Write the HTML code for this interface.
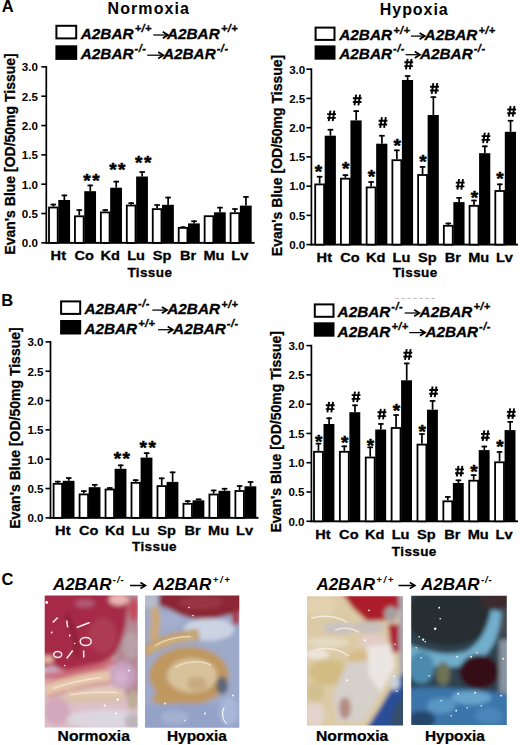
<!DOCTYPE html>
<html><head><meta charset="utf-8"><title>Figure</title><style>
html,body{margin:0;padding:0;background:#fff;width:520px;height:745px;overflow:hidden}
svg{display:block;position:absolute;left:0;top:0}
text{font-family:"Liberation Sans", sans-serif;fill:#000}
.yl{font-size:11.6px;font-weight:bold}
.xl{font-size:13.5px;font-weight:bold;stroke:#000;stroke-width:0.3px}
.tis{font-size:13.5px;font-weight:bold;letter-spacing:0.4px;stroke:#000;stroke-width:0.3px}
.yt{font-size:14px;font-weight:bold;stroke:#000;stroke-width:0.3px}
.ttl{font-size:16px;font-weight:bold}
.lg{font-size:15.3px;font-weight:bold;font-style:italic;stroke:#000;stroke-width:0.3px}
.sup{font-size:11px}
.ast{font-size:19px;font-weight:bold;stroke:#000;stroke-width:0.5px}
.ast2{font-size:19px;font-weight:bold;letter-spacing:1.5px;stroke:#000;stroke-width:0.5px}
.hash{font-size:16px;font-weight:bold}
.pl{font-size:17px;font-style:italic;font-weight:bold}
.psup{font-size:9.5px}
.cap{font-size:14px;font-weight:bold;stroke:#000;stroke-width:0.25px}
.pan{font-size:16.5px;font-weight:bold}
</style></head><body>
<svg width="520" height="745" viewBox="0 0 520 745">
<text x="1.8" y="12.4" class="pan">A</text>
<text x="1.2" y="305.6" class="pan">B</text>
<text x="1.6" y="585.3" class="pan">C</text>
<text x="107.5" y="13.8" class="ttl" style="letter-spacing:1.1px">Normoxia</text>
<text x="379.8" y="15.4" class="ttl" style="letter-spacing:0.95px">Hypoxia</text>
<rect x="45.45" y="66.1" width="1.7" height="177.55" fill="#000"/>
<rect x="41.3" y="242.05" width="5" height="1.6" fill="#000"/>
<text x="37.9" y="247.15" text-anchor="end" class="yl">0.0</text>
<rect x="41.3" y="212.72" width="5" height="1.6" fill="#000"/>
<text x="37.9" y="217.83" text-anchor="end" class="yl">0.5</text>
<rect x="41.3" y="183.4" width="5" height="1.6" fill="#000"/>
<text x="37.9" y="188.5" text-anchor="end" class="yl">1.0</text>
<rect x="41.3" y="154.07" width="5" height="1.6" fill="#000"/>
<text x="37.9" y="159.18" text-anchor="end" class="yl">1.5</text>
<rect x="41.3" y="124.75" width="5" height="1.6" fill="#000"/>
<text x="37.9" y="129.85" text-anchor="end" class="yl">2.0</text>
<rect x="41.3" y="95.42" width="5" height="1.6" fill="#000"/>
<text x="37.9" y="100.52" text-anchor="end" class="yl">2.5</text>
<rect x="41.3" y="66.1" width="5" height="1.6" fill="#000"/>
<text x="37.9" y="71.2" text-anchor="end" class="yl">3.0</text>
<rect x="45.45" y="241.9" width="209.15" height="1.9" fill="#000"/>
<rect x="52.5" y="203.7" width="1.7" height="2.9" fill="#000"/>
<rect x="50.55" y="203.7" width="5.6" height="1.7" fill="#000"/>
<rect x="49" y="207.5" width="8.7" height="35.35" fill="#fff" stroke="#000" stroke-width="1.8"/>
<rect x="63.5" y="194.6" width="1.7" height="5.4" fill="#000"/>
<rect x="61.55" y="194.6" width="5.6" height="1.7" fill="#000"/>
<rect x="58.3" y="200" width="11.8" height="42.85" fill="#000"/>
<text transform="translate(58.3,260.2) scale(1.08,1)" text-anchor="middle" class="xl">Ht</text>
<rect x="78.44" y="209.2" width="1.7" height="6.2" fill="#000"/>
<rect x="76.49" y="209.2" width="5.6" height="1.7" fill="#000"/>
<rect x="74.94" y="216.3" width="8.7" height="26.55" fill="#fff" stroke="#000" stroke-width="1.8"/>
<rect x="89.44" y="184.6" width="1.7" height="6.6" fill="#000"/>
<rect x="87.49" y="184.6" width="5.6" height="1.7" fill="#000"/>
<rect x="84.24" y="191.2" width="11.8" height="51.65" fill="#000"/>
<text transform="translate(84.24,260.2) scale(1.08,1)" text-anchor="middle" class="xl">Co</text>
<rect x="104.38" y="209.2" width="1.7" height="2.3" fill="#000"/>
<rect x="102.43" y="209.2" width="5.6" height="1.7" fill="#000"/>
<rect x="100.88" y="212.4" width="8.7" height="30.45" fill="#fff" stroke="#000" stroke-width="1.8"/>
<rect x="115.38" y="180.8" width="1.7" height="6.9" fill="#000"/>
<rect x="113.43" y="180.8" width="5.6" height="1.7" fill="#000"/>
<rect x="110.18" y="187.7" width="11.8" height="55.15" fill="#000"/>
<text transform="translate(110.18,260.2) scale(1.08,1)" text-anchor="middle" class="xl">Kd</text>
<rect x="130.32" y="202.3" width="1.7" height="2.3" fill="#000"/>
<rect x="128.37" y="202.3" width="5.6" height="1.7" fill="#000"/>
<rect x="126.82" y="205.5" width="8.7" height="37.35" fill="#fff" stroke="#000" stroke-width="1.8"/>
<rect x="141.32" y="171.2" width="1.7" height="5.3" fill="#000"/>
<rect x="139.37" y="171.2" width="5.6" height="1.7" fill="#000"/>
<rect x="136.12" y="176.5" width="11.8" height="66.35" fill="#000"/>
<text transform="translate(136.12,260.2) scale(1.08,1)" text-anchor="middle" class="xl">Lu</text>
<rect x="156.26" y="204.2" width="1.7" height="4" fill="#000"/>
<rect x="154.31" y="204.2" width="5.6" height="1.7" fill="#000"/>
<rect x="152.76" y="209.1" width="8.7" height="33.75" fill="#fff" stroke="#000" stroke-width="1.8"/>
<rect x="167.26" y="196.7" width="1.7" height="8.1" fill="#000"/>
<rect x="165.31" y="196.7" width="5.6" height="1.7" fill="#000"/>
<rect x="162.06" y="204.8" width="11.8" height="38.05" fill="#000"/>
<text transform="translate(162.06,260.2) scale(1.08,1)" text-anchor="middle" class="xl">Sp</text>
<rect x="182.2" y="226.4" width="1.7" height="0.6" fill="#000"/>
<rect x="180.25" y="226.4" width="5.6" height="1.7" fill="#000"/>
<rect x="178.7" y="227.9" width="8.7" height="14.95" fill="#fff" stroke="#000" stroke-width="1.8"/>
<rect x="193.2" y="220.4" width="1.7" height="3" fill="#000"/>
<rect x="191.25" y="220.4" width="5.6" height="1.7" fill="#000"/>
<rect x="188" y="223.4" width="11.8" height="19.45" fill="#000"/>
<text transform="translate(188,260.2) scale(1.08,1)" text-anchor="middle" class="xl">Br</text>
<rect x="204.64" y="216.2" width="8.7" height="26.65" fill="#fff" stroke="#000" stroke-width="1.8"/>
<rect x="219.14" y="206.8" width="1.7" height="5.5" fill="#000"/>
<rect x="217.19" y="206.8" width="5.6" height="1.7" fill="#000"/>
<rect x="213.94" y="212.3" width="11.8" height="30.55" fill="#000"/>
<text transform="translate(213.94,260.2) scale(1.08,1)" text-anchor="middle" class="xl">Mu</text>
<rect x="234.08" y="208.2" width="1.7" height="4.1" fill="#000"/>
<rect x="232.13" y="208.2" width="5.6" height="1.7" fill="#000"/>
<rect x="230.58" y="213.2" width="8.7" height="29.65" fill="#fff" stroke="#000" stroke-width="1.8"/>
<rect x="245.08" y="196.1" width="1.7" height="9.5" fill="#000"/>
<rect x="243.13" y="196.1" width="5.6" height="1.7" fill="#000"/>
<rect x="239.88" y="205.6" width="11.8" height="37.25" fill="#000"/>
<text transform="translate(239.88,260.2) scale(1.08,1)" text-anchor="middle" class="xl">Lv</text>
<text x="92.14" y="186.6" text-anchor="middle" class="ast2">**</text>
<text x="118.08" y="176.3" text-anchor="middle" class="ast2">**</text>
<text x="144.02" y="168.9" text-anchor="middle" class="ast2">**</text>
<text x="149.89" y="276.8" text-anchor="middle" class="tis">Tissue</text>
<text transform="translate(14.8,254.7) rotate(-90)" class="yt">Evan's Blue [OD/50mg Tissue]</text>
<rect x="310.55" y="68.4" width="1.7" height="177" fill="#000"/>
<rect x="306.4" y="243.8" width="5" height="1.6" fill="#000"/>
<text x="305.3" y="248.9" text-anchor="end" class="yl">0.0</text>
<rect x="306.4" y="214.57" width="5" height="1.6" fill="#000"/>
<text x="305.3" y="219.67" text-anchor="end" class="yl">0.5</text>
<rect x="306.4" y="185.33" width="5" height="1.6" fill="#000"/>
<text x="305.3" y="190.43" text-anchor="end" class="yl">1.0</text>
<rect x="306.4" y="156.1" width="5" height="1.6" fill="#000"/>
<text x="305.3" y="161.2" text-anchor="end" class="yl">1.5</text>
<rect x="306.4" y="126.87" width="5" height="1.6" fill="#000"/>
<text x="305.3" y="131.97" text-anchor="end" class="yl">2.0</text>
<rect x="306.4" y="97.63" width="5" height="1.6" fill="#000"/>
<text x="305.3" y="102.73" text-anchor="end" class="yl">2.5</text>
<rect x="306.4" y="68.4" width="5" height="1.6" fill="#000"/>
<text x="305.3" y="73.5" text-anchor="end" class="yl">3.0</text>
<rect x="310.55" y="243.65" width="207.45" height="1.9" fill="#000"/>
<rect x="318.8" y="175.9" width="1.7" height="7.6" fill="#000"/>
<rect x="316.85" y="175.9" width="5.6" height="1.7" fill="#000"/>
<rect x="315.2" y="184.4" width="8.9" height="60.2" fill="#fff" stroke="#000" stroke-width="1.8"/>
<rect x="329.6" y="128.9" width="1.7" height="6.8" fill="#000"/>
<rect x="327.65" y="128.9" width="5.6" height="1.7" fill="#000"/>
<rect x="324.7" y="135.7" width="11.2" height="108.9" fill="#000"/>
<text transform="translate(324.3,261.5) scale(1.08,1)" text-anchor="middle" class="xl">Ht</text>
<rect x="344.53" y="174.3" width="1.7" height="3.5" fill="#000"/>
<rect x="342.58" y="174.3" width="5.6" height="1.7" fill="#000"/>
<rect x="340.93" y="178.7" width="8.9" height="65.9" fill="#fff" stroke="#000" stroke-width="1.8"/>
<rect x="355.33" y="110.3" width="1.7" height="10.1" fill="#000"/>
<rect x="353.38" y="110.3" width="5.6" height="1.7" fill="#000"/>
<rect x="350.43" y="120.4" width="11.2" height="124.2" fill="#000"/>
<text transform="translate(350.03,261.5) scale(1.08,1)" text-anchor="middle" class="xl">Co</text>
<rect x="370.26" y="181.2" width="1.7" height="5.3" fill="#000"/>
<rect x="368.31" y="181.2" width="5.6" height="1.7" fill="#000"/>
<rect x="366.66" y="187.4" width="8.9" height="57.2" fill="#fff" stroke="#000" stroke-width="1.8"/>
<rect x="381.06" y="134.9" width="1.7" height="8.8" fill="#000"/>
<rect x="379.11" y="134.9" width="5.6" height="1.7" fill="#000"/>
<rect x="376.16" y="143.7" width="11.2" height="100.9" fill="#000"/>
<text transform="translate(375.76,261.5) scale(1.08,1)" text-anchor="middle" class="xl">Kd</text>
<rect x="395.99" y="149.5" width="1.7" height="9.8" fill="#000"/>
<rect x="394.04" y="149.5" width="5.6" height="1.7" fill="#000"/>
<rect x="392.39" y="160.2" width="8.9" height="84.4" fill="#fff" stroke="#000" stroke-width="1.8"/>
<rect x="406.79" y="75.2" width="1.7" height="4.8" fill="#000"/>
<rect x="404.84" y="75.2" width="5.6" height="1.7" fill="#000"/>
<rect x="401.89" y="80" width="11.2" height="164.6" fill="#000"/>
<text transform="translate(401.49,261.5) scale(1.08,1)" text-anchor="middle" class="xl">Lu</text>
<rect x="421.72" y="166.1" width="1.7" height="8" fill="#000"/>
<rect x="419.77" y="166.1" width="5.6" height="1.7" fill="#000"/>
<rect x="418.12" y="175" width="8.9" height="69.6" fill="#fff" stroke="#000" stroke-width="1.8"/>
<rect x="432.52" y="96.3" width="1.7" height="18.7" fill="#000"/>
<rect x="430.57" y="96.3" width="5.6" height="1.7" fill="#000"/>
<rect x="427.62" y="115" width="11.2" height="129.6" fill="#000"/>
<text transform="translate(427.22,261.5) scale(1.08,1)" text-anchor="middle" class="xl">Sp</text>
<rect x="447.45" y="222.6" width="1.7" height="2.3" fill="#000"/>
<rect x="445.5" y="222.6" width="5.6" height="1.7" fill="#000"/>
<rect x="443.85" y="225.8" width="8.9" height="18.8" fill="#fff" stroke="#000" stroke-width="1.8"/>
<rect x="458.25" y="197" width="1.7" height="5.1" fill="#000"/>
<rect x="456.3" y="197" width="5.6" height="1.7" fill="#000"/>
<rect x="453.35" y="202.1" width="11.2" height="42.5" fill="#000"/>
<text transform="translate(452.95,261.5) scale(1.08,1)" text-anchor="middle" class="xl">Br</text>
<rect x="473.18" y="199.7" width="1.7" height="5.2" fill="#000"/>
<rect x="471.23" y="199.7" width="5.6" height="1.7" fill="#000"/>
<rect x="469.58" y="205.8" width="8.9" height="38.8" fill="#fff" stroke="#000" stroke-width="1.8"/>
<rect x="483.98" y="145.5" width="1.7" height="7.7" fill="#000"/>
<rect x="482.03" y="145.5" width="5.6" height="1.7" fill="#000"/>
<rect x="479.08" y="153.2" width="11.2" height="91.4" fill="#000"/>
<text transform="translate(478.68,261.5) scale(1.08,1)" text-anchor="middle" class="xl">Mu</text>
<rect x="498.91" y="183.5" width="1.7" height="6.6" fill="#000"/>
<rect x="496.96" y="183.5" width="5.6" height="1.7" fill="#000"/>
<rect x="495.31" y="191" width="8.9" height="53.6" fill="#fff" stroke="#000" stroke-width="1.8"/>
<rect x="509.71" y="119.9" width="1.7" height="11.9" fill="#000"/>
<rect x="507.76" y="119.9" width="5.6" height="1.7" fill="#000"/>
<rect x="504.81" y="131.8" width="11.2" height="112.8" fill="#000"/>
<text transform="translate(504.41,261.5) scale(1.08,1)" text-anchor="middle" class="xl">Lv</text>
<text x="318.35" y="177.5" text-anchor="middle" class="ast">*</text>
<path d="M330.45 110.6L328.75 121.2M334.35 110.6L332.65 121.2M327.15 114.1H335.95M327.15 117.9H335.75" stroke="#000" stroke-width="1.9" fill="none"/>
<text x="345.68" y="175.1" text-anchor="middle" class="ast">*</text>
<path d="M356.18 94.7L354.48 105.3M360.08 94.7L358.38 105.3M352.88 98.2H361.68M352.88 102H361.48" stroke="#000" stroke-width="1.9" fill="none"/>
<text x="371.41" y="183.1" text-anchor="middle" class="ast">*</text>
<path d="M381.91 117.2L380.21 127.8M385.81 117.2L384.11 127.8M378.61 120.7H387.41M378.61 124.5H387.21" stroke="#000" stroke-width="1.9" fill="none"/>
<text x="397.14" y="151.9" text-anchor="middle" class="ast">*</text>
<path d="M407.64 58.8L405.94 69.4M411.54 58.8L409.84 69.4M404.34 62.3H413.14M404.34 66.1H412.94" stroke="#000" stroke-width="1.9" fill="none"/>
<text x="422.87" y="167.6" text-anchor="middle" class="ast">*</text>
<path d="M433.37 83.2L431.67 93.8M437.27 83.2L435.57 93.8M430.07 86.7H438.87M430.07 90.5H438.67" stroke="#000" stroke-width="1.9" fill="none"/>
<path d="M459.1 179.1L457.4 189.7M463 179.1L461.3 189.7M455.8 182.6H464.6M455.8 186.4H464.4" stroke="#000" stroke-width="1.9" fill="none"/>
<text x="474.33" y="204.1" text-anchor="middle" class="ast">*</text>
<path d="M484.83 132.6L483.13 143.2M488.73 132.6L487.03 143.2M481.53 136.1H490.33M481.53 139.9H490.13" stroke="#000" stroke-width="1.9" fill="none"/>
<text x="500.06" y="184.9" text-anchor="middle" class="ast">*</text>
<path d="M510.56 106L508.86 116.6M514.46 106L512.76 116.6M507.26 109.5H516.06M507.26 113.3H515.86" stroke="#000" stroke-width="1.9" fill="none"/>
<text x="415.16" y="277.2" text-anchor="middle" class="tis">Tissue</text>
<text transform="translate(282,256.2) rotate(-90)" class="yt">Evan's Blue [OD/50mg Tissue]</text>
<rect x="49.65" y="341.1" width="1.7" height="177.55" fill="#000"/>
<rect x="45.5" y="517.05" width="5" height="1.6" fill="#000"/>
<text x="43.5" y="522.15" text-anchor="end" class="yl">0.0</text>
<rect x="45.5" y="487.73" width="5" height="1.6" fill="#000"/>
<text x="43.5" y="492.83" text-anchor="end" class="yl">0.5</text>
<rect x="45.5" y="458.4" width="5" height="1.6" fill="#000"/>
<text x="43.5" y="463.5" text-anchor="end" class="yl">1.0</text>
<rect x="45.5" y="429.07" width="5" height="1.6" fill="#000"/>
<text x="43.5" y="434.18" text-anchor="end" class="yl">1.5</text>
<rect x="45.5" y="399.75" width="5" height="1.6" fill="#000"/>
<text x="43.5" y="404.85" text-anchor="end" class="yl">2.0</text>
<rect x="45.5" y="370.43" width="5" height="1.6" fill="#000"/>
<text x="43.5" y="375.53" text-anchor="end" class="yl">2.5</text>
<rect x="45.5" y="341.1" width="5" height="1.6" fill="#000"/>
<text x="43.5" y="346.2" text-anchor="end" class="yl">3.0</text>
<rect x="49.65" y="516.9" width="208.85" height="1.9" fill="#000"/>
<rect x="57" y="480.8" width="1.7" height="2.1" fill="#000"/>
<rect x="55.05" y="480.8" width="5.6" height="1.7" fill="#000"/>
<rect x="53.6" y="483.8" width="8.5" height="34.05" fill="#fff" stroke="#000" stroke-width="1.8"/>
<rect x="67.9" y="477.2" width="1.7" height="3.6" fill="#000"/>
<rect x="65.95" y="477.2" width="5.6" height="1.7" fill="#000"/>
<rect x="62.7" y="480.8" width="11.8" height="37.05" fill="#000"/>
<text transform="translate(62.8,535.2) scale(1.08,1)" text-anchor="middle" class="xl">Ht</text>
<rect x="82.97" y="490.3" width="1.7" height="3.2" fill="#000"/>
<rect x="81.02" y="490.3" width="5.6" height="1.7" fill="#000"/>
<rect x="79.57" y="494.4" width="8.5" height="23.45" fill="#fff" stroke="#000" stroke-width="1.8"/>
<rect x="93.87" y="484" width="1.7" height="3.2" fill="#000"/>
<rect x="91.92" y="484" width="5.6" height="1.7" fill="#000"/>
<rect x="88.67" y="487.2" width="11.8" height="30.65" fill="#000"/>
<text transform="translate(88.77,535.2) scale(1.08,1)" text-anchor="middle" class="xl">Co</text>
<rect x="108.94" y="487.2" width="1.7" height="1.4" fill="#000"/>
<rect x="106.99" y="487.2" width="5.6" height="1.7" fill="#000"/>
<rect x="105.54" y="489.5" width="8.5" height="28.35" fill="#fff" stroke="#000" stroke-width="1.8"/>
<rect x="119.84" y="464.5" width="1.7" height="4.3" fill="#000"/>
<rect x="117.89" y="464.5" width="5.6" height="1.7" fill="#000"/>
<rect x="114.64" y="468.8" width="11.8" height="49.05" fill="#000"/>
<text transform="translate(114.74,535.2) scale(1.08,1)" text-anchor="middle" class="xl">Kd</text>
<rect x="134.91" y="479.3" width="1.7" height="2.6" fill="#000"/>
<rect x="132.96" y="479.3" width="5.6" height="1.7" fill="#000"/>
<rect x="131.51" y="482.8" width="8.5" height="35.05" fill="#fff" stroke="#000" stroke-width="1.8"/>
<rect x="145.81" y="452.3" width="1.7" height="5.3" fill="#000"/>
<rect x="143.86" y="452.3" width="5.6" height="1.7" fill="#000"/>
<rect x="140.61" y="457.6" width="11.8" height="60.25" fill="#000"/>
<text transform="translate(140.71,535.2) scale(1.08,1)" text-anchor="middle" class="xl">Lu</text>
<rect x="160.88" y="477.5" width="1.7" height="7.7" fill="#000"/>
<rect x="158.93" y="477.5" width="5.6" height="1.7" fill="#000"/>
<rect x="157.48" y="486.1" width="8.5" height="31.75" fill="#fff" stroke="#000" stroke-width="1.8"/>
<rect x="171.78" y="471.5" width="1.7" height="10.4" fill="#000"/>
<rect x="169.83" y="471.5" width="5.6" height="1.7" fill="#000"/>
<rect x="166.58" y="481.9" width="11.8" height="35.95" fill="#000"/>
<text transform="translate(166.68,535.2) scale(1.08,1)" text-anchor="middle" class="xl">Sp</text>
<rect x="186.85" y="500.3" width="1.7" height="2.6" fill="#000"/>
<rect x="184.9" y="500.3" width="5.6" height="1.7" fill="#000"/>
<rect x="183.45" y="503.8" width="8.5" height="14.05" fill="#fff" stroke="#000" stroke-width="1.8"/>
<rect x="197.75" y="498.5" width="1.7" height="1.8" fill="#000"/>
<rect x="195.8" y="498.5" width="5.6" height="1.7" fill="#000"/>
<rect x="192.55" y="500.3" width="11.8" height="17.55" fill="#000"/>
<text transform="translate(192.65,535.2) scale(1.08,1)" text-anchor="middle" class="xl">Br</text>
<rect x="212.82" y="489.6" width="1.7" height="4" fill="#000"/>
<rect x="210.87" y="489.6" width="5.6" height="1.7" fill="#000"/>
<rect x="209.42" y="494.5" width="8.5" height="23.35" fill="#fff" stroke="#000" stroke-width="1.8"/>
<rect x="223.72" y="487.9" width="1.7" height="2.9" fill="#000"/>
<rect x="221.77" y="487.9" width="5.6" height="1.7" fill="#000"/>
<rect x="218.52" y="490.8" width="11.8" height="27.05" fill="#000"/>
<text transform="translate(218.62,535.2) scale(1.08,1)" text-anchor="middle" class="xl">Mu</text>
<rect x="238.79" y="485.2" width="1.7" height="4.9" fill="#000"/>
<rect x="236.84" y="485.2" width="5.6" height="1.7" fill="#000"/>
<rect x="235.39" y="491" width="8.5" height="26.85" fill="#fff" stroke="#000" stroke-width="1.8"/>
<rect x="249.69" y="481.2" width="1.7" height="5.1" fill="#000"/>
<rect x="247.74" y="481.2" width="5.6" height="1.7" fill="#000"/>
<rect x="244.49" y="486.3" width="11.8" height="31.55" fill="#000"/>
<text transform="translate(244.59,535.2) scale(1.08,1)" text-anchor="middle" class="xl">Lv</text>
<text x="122.54" y="464.8" text-anchor="middle" class="ast2">**</text>
<text x="148.51" y="453.6" text-anchor="middle" class="ast2">**</text>
<text x="154.5" y="551.4" text-anchor="middle" class="tis">Tissue</text>
<text transform="translate(20.3,528.8) rotate(-90)" class="yt">Evan's Blue [OD/50mg Tissue]</text>
<rect x="310.55" y="344.8" width="1.7" height="177.3" fill="#000"/>
<rect x="306.4" y="520.5" width="5" height="1.6" fill="#000"/>
<text x="304.5" y="525.6" text-anchor="end" class="yl">0.0</text>
<rect x="306.4" y="491.22" width="5" height="1.6" fill="#000"/>
<text x="304.5" y="496.32" text-anchor="end" class="yl">0.5</text>
<rect x="306.4" y="461.93" width="5" height="1.6" fill="#000"/>
<text x="304.5" y="467.03" text-anchor="end" class="yl">1.0</text>
<rect x="306.4" y="432.65" width="5" height="1.6" fill="#000"/>
<text x="304.5" y="437.75" text-anchor="end" class="yl">1.5</text>
<rect x="306.4" y="403.37" width="5" height="1.6" fill="#000"/>
<text x="304.5" y="408.47" text-anchor="end" class="yl">2.0</text>
<rect x="306.4" y="374.08" width="5" height="1.6" fill="#000"/>
<text x="304.5" y="379.18" text-anchor="end" class="yl">2.5</text>
<rect x="306.4" y="344.8" width="5" height="1.6" fill="#000"/>
<text x="304.5" y="349.9" text-anchor="end" class="yl">3.0</text>
<rect x="310.55" y="520.35" width="207.45" height="1.9" fill="#000"/>
<rect x="317.6" y="442.8" width="1.7" height="8.1" fill="#000"/>
<rect x="315.65" y="442.8" width="5.6" height="1.7" fill="#000"/>
<rect x="314" y="451.8" width="8.9" height="69.5" fill="#fff" stroke="#000" stroke-width="1.8"/>
<rect x="328.25" y="417.4" width="1.7" height="6.6" fill="#000"/>
<rect x="326.3" y="417.4" width="5.6" height="1.7" fill="#000"/>
<rect x="323.5" y="424" width="10.9" height="97.3" fill="#000"/>
<text transform="translate(322.95,538.6) scale(1.08,1)" text-anchor="middle" class="xl">Ht</text>
<rect x="343.47" y="445.5" width="1.7" height="5.4" fill="#000"/>
<rect x="341.52" y="445.5" width="5.6" height="1.7" fill="#000"/>
<rect x="339.87" y="451.8" width="8.9" height="69.5" fill="#fff" stroke="#000" stroke-width="1.8"/>
<rect x="354.12" y="404.5" width="1.7" height="7.7" fill="#000"/>
<rect x="352.17" y="404.5" width="5.6" height="1.7" fill="#000"/>
<rect x="349.37" y="412.2" width="10.9" height="109.1" fill="#000"/>
<text transform="translate(348.82,538.6) scale(1.08,1)" text-anchor="middle" class="xl">Co</text>
<rect x="369.34" y="446.5" width="1.7" height="10.1" fill="#000"/>
<rect x="367.39" y="446.5" width="5.6" height="1.7" fill="#000"/>
<rect x="365.74" y="457.5" width="8.9" height="63.8" fill="#fff" stroke="#000" stroke-width="1.8"/>
<rect x="379.99" y="423.1" width="1.7" height="6.4" fill="#000"/>
<rect x="378.04" y="423.1" width="5.6" height="1.7" fill="#000"/>
<rect x="375.24" y="429.5" width="10.9" height="91.8" fill="#000"/>
<text transform="translate(374.69,538.6) scale(1.08,1)" text-anchor="middle" class="xl">Kd</text>
<rect x="395.21" y="414.2" width="1.7" height="12.9" fill="#000"/>
<rect x="393.26" y="414.2" width="5.6" height="1.7" fill="#000"/>
<rect x="391.61" y="428" width="8.9" height="93.3" fill="#fff" stroke="#000" stroke-width="1.8"/>
<rect x="405.86" y="362.6" width="1.7" height="17.7" fill="#000"/>
<rect x="403.91" y="362.6" width="5.6" height="1.7" fill="#000"/>
<rect x="401.11" y="380.3" width="10.9" height="141" fill="#000"/>
<text transform="translate(400.56,538.6) scale(1.08,1)" text-anchor="middle" class="xl">Lu</text>
<rect x="421.08" y="433.2" width="1.7" height="10.5" fill="#000"/>
<rect x="419.13" y="433.2" width="5.6" height="1.7" fill="#000"/>
<rect x="417.48" y="444.6" width="8.9" height="76.7" fill="#fff" stroke="#000" stroke-width="1.8"/>
<rect x="431.73" y="400.1" width="1.7" height="9.6" fill="#000"/>
<rect x="429.78" y="400.1" width="5.6" height="1.7" fill="#000"/>
<rect x="426.98" y="409.7" width="10.9" height="111.6" fill="#000"/>
<text transform="translate(426.43,538.6) scale(1.08,1)" text-anchor="middle" class="xl">Sp</text>
<rect x="446.95" y="496.1" width="1.7" height="4.3" fill="#000"/>
<rect x="445" y="496.1" width="5.6" height="1.7" fill="#000"/>
<rect x="443.35" y="501.3" width="8.9" height="20" fill="#fff" stroke="#000" stroke-width="1.8"/>
<rect x="457.6" y="479.5" width="1.7" height="3.5" fill="#000"/>
<rect x="455.65" y="479.5" width="5.6" height="1.7" fill="#000"/>
<rect x="452.85" y="483" width="10.9" height="38.3" fill="#000"/>
<text transform="translate(452.3,538.6) scale(1.08,1)" text-anchor="middle" class="xl">Br</text>
<rect x="472.82" y="474.3" width="1.7" height="5.5" fill="#000"/>
<rect x="470.87" y="474.3" width="5.6" height="1.7" fill="#000"/>
<rect x="469.22" y="480.7" width="8.9" height="40.6" fill="#fff" stroke="#000" stroke-width="1.8"/>
<rect x="483.47" y="445.7" width="1.7" height="4.4" fill="#000"/>
<rect x="481.52" y="445.7" width="5.6" height="1.7" fill="#000"/>
<rect x="478.72" y="450.1" width="10.9" height="71.2" fill="#000"/>
<text transform="translate(478.17,538.6) scale(1.08,1)" text-anchor="middle" class="xl">Mu</text>
<rect x="498.69" y="451.1" width="1.7" height="10.3" fill="#000"/>
<rect x="496.74" y="451.1" width="5.6" height="1.7" fill="#000"/>
<rect x="495.09" y="462.3" width="8.9" height="59" fill="#fff" stroke="#000" stroke-width="1.8"/>
<rect x="509.34" y="421" width="1.7" height="9.1" fill="#000"/>
<rect x="507.39" y="421" width="5.6" height="1.7" fill="#000"/>
<rect x="504.59" y="430.1" width="10.9" height="91.2" fill="#000"/>
<text transform="translate(504.04,538.6) scale(1.08,1)" text-anchor="middle" class="xl">Lv</text>
<text x="318.75" y="447.6" text-anchor="middle" class="ast">*</text>
<path d="M329.1 401.8L327.4 412.4M333 401.8L331.3 412.4M325.8 405.3H334.6M325.8 409.1H334.4" stroke="#000" stroke-width="1.9" fill="none"/>
<text x="344.62" y="449.4" text-anchor="middle" class="ast">*</text>
<path d="M354.97 391.6L353.27 402.2M358.87 391.6L357.17 402.2M351.67 395.1H360.47M351.67 398.9H360.27" stroke="#000" stroke-width="1.9" fill="none"/>
<text x="370.49" y="452.2" text-anchor="middle" class="ast">*</text>
<path d="M380.84 408.8L379.14 419.4M384.74 408.8L383.04 419.4M377.54 412.3H386.34M377.54 416.1H386.14" stroke="#000" stroke-width="1.9" fill="none"/>
<text x="396.36" y="416.8" text-anchor="middle" class="ast">*</text>
<path d="M406.71 349.2L405.01 359.8M410.61 349.2L408.91 359.8M403.41 352.7H412.21M403.41 356.5H412.01" stroke="#000" stroke-width="1.9" fill="none"/>
<text x="422.23" y="438.1" text-anchor="middle" class="ast">*</text>
<path d="M432.58 386.5L430.88 397.1M436.48 386.5L434.78 397.1M429.28 390H438.08M429.28 393.8H437.88" stroke="#000" stroke-width="1.9" fill="none"/>
<path d="M458.45 465.9L456.75 476.5M462.35 465.9L460.65 476.5M455.15 469.4H463.95M455.15 473.2H463.75" stroke="#000" stroke-width="1.9" fill="none"/>
<text x="473.97" y="477.6" text-anchor="middle" class="ast">*</text>
<path d="M484.32 430.4L482.62 441M488.22 430.4L486.52 441M481.02 433.9H489.82M481.02 437.7H489.62" stroke="#000" stroke-width="1.9" fill="none"/>
<text x="499.84" y="452.9" text-anchor="middle" class="ast">*</text>
<path d="M510.19 408.4L508.49 419M514.09 408.4L512.39 419M506.89 411.9H515.69M506.89 415.7H515.49" stroke="#000" stroke-width="1.9" fill="none"/>
<text x="414.3" y="555.5" text-anchor="middle" class="tis">Tissue</text>
<text transform="translate(281.3,532.5) rotate(-90)" class="yt">Evan's Blue [OD/50mg Tissue]</text>
<rect x="56.4" y="25.8" width="19.8" height="12.6" fill="#fff" stroke="#000" stroke-width="2"/>
<rect x="55.4" y="45.3" width="21.8" height="14.6" fill="#000"/>
<text x="80.8" y="38.9" class="lg">A2BAR<tspan class="sup" dx="1.2" dy="-6.5" style="letter-spacing:0.4px">+/+</tspan></text>
<path d="M153.3 35H167.6" stroke="#000" stroke-width="1.25" fill="none"/>
<path d="M162.8 31.8L167.9 35L162.8 38.2" stroke="#000" stroke-width="1.8" fill="none" stroke-linejoin="miter"/>
<text x="167" y="38.9" class="lg">A2BAR<tspan class="sup" dx="1.2" dy="-6.5" style="letter-spacing:0.4px">+/+</tspan></text>
<text x="80.8" y="59.1" class="lg">A2BAR<tspan class="sup" dx="1.0" dy="-6.9" style="letter-spacing:0.5px">-/-</tspan></text>
<path d="M147.3 55.2H163" stroke="#000" stroke-width="1.25" fill="none"/>
<path d="M158.2 52L163.3 55.2L158.2 58.4" stroke="#000" stroke-width="1.8" fill="none" stroke-linejoin="miter"/>
<text x="163" y="59.1" class="lg">A2BAR<tspan class="sup" dx="1.0" dy="-6.9" style="letter-spacing:0.5px">-/-</tspan></text>
<rect x="315.6" y="27.6" width="18.9" height="12.3" fill="#fff" stroke="#000" stroke-width="2"/>
<rect x="314.6" y="45.4" width="20.9" height="14.3" fill="#000"/>
<text x="339.3" y="40" class="lg">A2BAR<tspan class="sup" dx="1.2" dy="-6.5" style="letter-spacing:0.4px">+/+</tspan></text>
<path d="M411 36.1H424.4" stroke="#000" stroke-width="1.25" fill="none"/>
<path d="M419.6 32.9L424.7 36.1L419.6 39.3" stroke="#000" stroke-width="1.8" fill="none" stroke-linejoin="miter"/>
<text x="424.6" y="40" class="lg">A2BAR<tspan class="sup" dx="1.2" dy="-6.5" style="letter-spacing:0.4px">+/+</tspan></text>
<text x="339.3" y="58.6" class="lg">A2BAR<tspan class="sup" dx="1.0" dy="-6.9" style="letter-spacing:0.5px">-/-</tspan></text>
<path d="M405.6 54.7H419.6" stroke="#000" stroke-width="1.25" fill="none"/>
<path d="M414.8 51.5L419.9 54.7L414.8 57.9" stroke="#000" stroke-width="1.8" fill="none" stroke-linejoin="miter"/>
<text x="420" y="58.6" class="lg">A2BAR<tspan class="sup" dx="1.0" dy="-6.9" style="letter-spacing:0.5px">-/-</tspan></text>
<rect x="61.1" y="301.4" width="19.1" height="12.5" fill="#fff" stroke="#000" stroke-width="2"/>
<rect x="60.1" y="320" width="21.1" height="14.5" fill="#000"/>
<text x="84.4" y="314" class="lg">A2BAR<tspan class="sup" dx="1.0" dy="-6.9" style="letter-spacing:0.5px">-/-</tspan></text>
<path d="M152.3 310.1H166.7" stroke="#000" stroke-width="1.25" fill="none"/>
<path d="M161.9 306.9L167 310.1L161.9 313.3" stroke="#000" stroke-width="1.8" fill="none" stroke-linejoin="miter"/>
<text x="167.3" y="314" class="lg">A2BAR<tspan class="sup" dx="1.2" dy="-6.5" style="letter-spacing:0.4px">+/+</tspan></text>
<text x="84.4" y="333.6" class="lg">A2BAR<tspan class="sup" dx="1.2" dy="-6.5" style="letter-spacing:0.4px">+/+</tspan></text>
<path d="M158.1 329.7H172.5" stroke="#000" stroke-width="1.25" fill="none"/>
<path d="M167.7 326.5L172.8 329.7L167.7 332.9" stroke="#000" stroke-width="1.8" fill="none" stroke-linejoin="miter"/>
<text x="173.1" y="333.6" class="lg">A2BAR<tspan class="sup" dx="1.0" dy="-6.9" style="letter-spacing:0.5px">-/-</tspan></text>
<rect x="314.8" y="304.4" width="18.7" height="12.4" fill="#fff" stroke="#000" stroke-width="2"/>
<rect x="313.8" y="322.3" width="20.7" height="14.4" fill="#000"/>
<text x="337.6" y="316.9" class="lg">A2BAR<tspan class="sup" dx="1.0" dy="-6.9" style="letter-spacing:0.5px">-/-</tspan></text>
<path d="M404.6 313H419" stroke="#000" stroke-width="1.25" fill="none"/>
<path d="M414.2 309.8L419.3 313L414.2 316.2" stroke="#000" stroke-width="1.8" fill="none" stroke-linejoin="miter"/>
<text x="419.6" y="316.9" class="lg">A2BAR<tspan class="sup" dx="1.2" dy="-6.5" style="letter-spacing:0.4px">+/+</tspan></text>
<text x="337.6" y="336.5" class="lg">A2BAR<tspan class="sup" dx="1.2" dy="-6.5" style="letter-spacing:0.4px">+/+</tspan></text>
<path d="M409.2 332.6H424.8" stroke="#000" stroke-width="1.25" fill="none"/>
<path d="M420 329.4L425.1 332.6L420 335.8" stroke="#000" stroke-width="1.8" fill="none" stroke-linejoin="miter"/>
<text x="425.4" y="336.5" class="lg">A2BAR<tspan class="sup" dx="1.0" dy="-6.9" style="letter-spacing:0.5px">-/-</tspan></text>
<path d="M395.4 298.4H437" stroke="#b0b0b0" stroke-width="0.9" stroke-dasharray="3.5 2.5" fill="none"/>
<text x="52.9" y="589.9" class="pl">A2BAR<tspan class="psup" dx="1.4" dy="-6.6" style="letter-spacing:0.9px">-/-</tspan></text>
<path d="M130 585.5H144.9" stroke="#000" stroke-width="1.5" fill="none"/>
<path d="M140.4 582.5L145.6 585.5L140.4 588.5" stroke="#000" stroke-width="1.5" fill="none"/>
<text x="152.8" y="589.9" class="pl">A2BAR<tspan class="psup" dx="1.4" dy="-6.6" style="letter-spacing:1.6px">+/+</tspan></text>
<text x="316.4" y="589.9" class="pl">A2BAR<tspan class="psup" dx="1.4" dy="-6.6" style="letter-spacing:1.6px">+/+</tspan></text>
<path d="M398.5 585.5H414.3" stroke="#000" stroke-width="1.5" fill="none"/>
<path d="M409.8 582.5L415 585.5L409.8 588.5" stroke="#000" stroke-width="1.5" fill="none"/>
<text x="421" y="589.9" class="pl">A2BAR<tspan class="psup" dx="1.4" dy="-6.6" style="letter-spacing:0.9px">-/-</tspan></text>
<defs>
<filter id="bl3" x="-20%" y="-20%" width="140%" height="140%"><feGaussianBlur stdDeviation="1.9"/></filter>
<filter id="bl1" x="-50%" y="-50%" width="200%" height="200%"><feGaussianBlur stdDeviation="0.6"/></filter>
<clipPath id="c1"><rect x="0" y="0" width="93" height="132"/></clipPath>
<clipPath id="c2"><rect x="0" y="0" width="94.3" height="132.3"/></clipPath>
<clipPath id="c3"><rect x="0" y="0" width="96" height="129.1"/></clipPath>
<clipPath id="c4"><rect x="0" y="0" width="95.6" height="129.3"/></clipPath>
</defs>
<!-- Photo 1: normoxia, A2BAR-/- -> A2BAR+/+ -->
<g transform="translate(44.7,595.5)" clip-path="url(#c1)">
 <g filter="url(#bl3)">
  <rect x="-10" y="-10" width="113" height="152" fill="#dcc0c8"/>
  <rect x="70" y="-10" width="35" height="110" fill="#b48894"/>
  <path d="M-10 -10H82C85 20 80 45 68 62C52 70 42 75 34 77C20 75 8 72 -10 71Z" fill="#a62c46"/>
  <ellipse cx="58" cy="40" rx="14" ry="18" fill="#ac3a52"/>
  <path d="M22 18L30 40L33 62" stroke="#861c32" stroke-width="4" fill="none"/>
  <ellipse cx="40" cy="8" rx="10" ry="4" fill="#b45a78"/>
  <ellipse cx="74" cy="4" rx="10" ry="6" fill="#eab4b4"/>
  <ellipse cx="89" cy="14" rx="5" ry="12" fill="#c44a5c"/>
  <ellipse cx="86" cy="50" rx="8" ry="14" fill="#b8a0a8"/>
  <ellipse cx="3" cy="64" rx="6" ry="4" fill="#e2b8a4"/>
  <ellipse cx="7" cy="77" rx="8" ry="7" fill="#ccaac2"/>
  <path d="M-2 81C20 79 45 74 70 66" stroke="#cc6a78" stroke-width="6" fill="none"/>
  <path d="M0 95C18 89 40 83 66 80" stroke="#c86874" stroke-width="16" fill="none"/>
  <path d="M0 95C18 89 40 83 66 80" stroke="#e6c6ac" stroke-width="12" fill="none"/>
  <path d="M22 100C42 97 60 95 80 97" stroke="#e4ccb6" stroke-width="8" fill="none"/>
  <path d="M10 104C30 103 50 103 78 103" stroke="#d8c0a0" stroke-width="5" fill="none"/>
  <ellipse cx="78" cy="80" rx="13" ry="14" fill="#c8a0c0"/>
  <ellipse cx="76" cy="82" rx="7" ry="8" fill="#d4b0cc"/>
  <ellipse cx="88" cy="104" rx="6" ry="10" fill="#bcac94"/>
  <ellipse cx="12" cy="116" rx="13" ry="14" fill="#d4a8bc"/>
  <ellipse cx="60" cy="124" rx="38" ry="10" fill="#dcd6de"/>
  <ellipse cx="88" cy="126" rx="8" ry="8" fill="#bdb4bc"/>
 </g>
 <g fill="none" stroke="#f8f0f2" stroke-width="1.5" filter="url(#bl1)">
  <ellipse cx="41" cy="46" rx="5.5" ry="4"/>
  <ellipse cx="13" cy="59" rx="4" ry="3"/>
  <path d="M32 32L45 27"/>
  <path d="M22 25L23 32"/>
  <path d="M8 27L13 22"/>
  <path d="M39 55L39 62"/>
  <path d="M22 63C24 60 26 58 28 55"/>
 </g>
 <g fill="none" stroke="#f6e8dc" stroke-width="1.4" opacity="0.85" filter="url(#bl1)">
  <path d="M8 93C22 88 40 84 56 82"/>
  <path d="M26 99C42 97 56 96 72 97"/>
 </g>
 <g fill="#fff" filter="url(#bl1)">
  <circle cx="7" cy="37" r="0.9"/><circle cx="25" cy="40" r="0.9"/><circle cx="30" cy="48" r="0.8"/>
  <circle cx="2" cy="7" r="1.4"/><circle cx="20" cy="70" r="0.8"/><circle cx="73" cy="104" r="1.3"/>
  <circle cx="60" cy="110" r="1.1"/><circle cx="71" cy="118" r="1.1"/><circle cx="84" cy="75" r="0.9"/>
 </g>
</g>
<!-- Photo 2: hypoxia -->
<g transform="translate(145,595.5)" clip-path="url(#c2)">
 <g filter="url(#bl3)">
  <rect x="-10" y="-10" width="115" height="152" fill="#9eaaca"/>
  <path d="M14 -10H104V15C94 17 86 19 78 21C65 25 50 25 40 21C30 17 22 12 14 10Z" fill="#8c2836"/>
  <ellipse cx="56" cy="7" rx="22" ry="7" fill="#983442"/>
  <ellipse cx="91" cy="22" rx="4" ry="8" fill="#a83040"/>
  <ellipse cx="5" cy="5" rx="8" ry="8" fill="#b6bccc"/>
  <path d="M9 12C12 22 11 32 8 44" stroke="#cca874" stroke-width="9" fill="none"/>
  <ellipse cx="64" cy="34" rx="25" ry="11" fill="#ccd4e4"/>
  <ellipse cx="26" cy="24" rx="11" ry="7" fill="#a4aece"/>
  <path d="M-2 58C12 47 30 41 54 39" stroke="#c29c66" stroke-width="11" fill="none"/>
  <path d="M2 56C14 47 30 43 50 41" stroke="#d8bc88" stroke-width="3" fill="none"/>
  <ellipse cx="44" cy="80" rx="40" ry="29" fill="#bf9860"/>
  <ellipse cx="47" cy="80" rx="25" ry="17" fill="#d8c29c"/>
  <ellipse cx="52" cy="88" rx="10" ry="7" fill="#c8aa80"/>
  <ellipse cx="77" cy="90" rx="6" ry="9" fill="#5e6676"/>
  <ellipse cx="22" cy="103" rx="15" ry="7" fill="#bf9860"/>
  <path d="M-10 112C20 106 60 108 105 110V142H-10Z" fill="#94a2c8"/>
  <ellipse cx="84" cy="116" rx="10" ry="14" fill="#a8b6d8"/>
  <ellipse cx="30" cy="122" rx="14" ry="7" fill="#a4b0d0"/>
 </g>
 <g fill="none" stroke="#eef2f8" stroke-width="1.2" filter="url(#bl1)">
  <path d="M79 112C76 118 78 126 82 128"/>
  <path d="M30 72C40 66 56 64 66 70" stroke="#eadcc0" stroke-width="1.5"/>
  <path d="M10 50C20 44 34 41 46 41" stroke="#e6d4b0" stroke-width="1.3"/>
 </g>
 <g fill="#fff" filter="url(#bl1)">
  <circle cx="20" cy="108" r="0.9"/><circle cx="60" cy="118" r="0.9"/><circle cx="88" cy="100" r="0.9"/>
  <circle cx="40" cy="125" r="0.8"/><circle cx="44" cy="12" r="0.8"/><circle cx="48" cy="20" r="0.8"/>
 </g>
</g>
<!-- Photo 3: normoxia, A2BAR+/+ -> A2BAR-/- -->
<g transform="translate(307,596.3)" clip-path="url(#c3)">
 <g filter="url(#bl3)">
  <rect x="-10" y="-10" width="116" height="150" fill="#dccaa6"/>
  <path d="M30 -10H100V10L90 14L80 24L60 25L46 12Z" fill="#ac1e2c"/>
  <ellipse cx="84" cy="18" rx="7" ry="8" fill="#a8a0a0"/>
  <path d="M81 28L92 28L93 56L84 56Z" fill="#ac2434"/>
  <rect x="92" y="-10" width="12" height="150" fill="#aeaab0"/>
  <ellipse cx="14" cy="10" rx="16" ry="10" fill="#e2d2b0"/>
  <ellipse cx="32" cy="32" rx="16" ry="6" fill="#c8c2c2"/>
  <ellipse cx="62" cy="31" rx="16" ry="6" fill="#c8c0bc"/>
  <ellipse cx="20" cy="46" rx="22" ry="5" fill="#e4dac4"/>
  <ellipse cx="66" cy="45" rx="14" ry="8" fill="#e2ccc4"/>
  <ellipse cx="54" cy="62" rx="14" ry="8" fill="#d6bc86"/>
  <ellipse cx="22" cy="76" rx="20" ry="13" fill="#d2bc84"/>
  <ellipse cx="8" cy="96" rx="9" ry="10" fill="#d2c090"/>
  <path d="M40 66L64 64L74 96L56 126L30 126L26 98Z" fill="#d6d0ca"/>
  <path d="M60 50L84 48L88 70L74 96L62 80Z" fill="#eae6e2"/>
  <ellipse cx="10" cy="58" rx="12" ry="5" fill="#ece6da"/>
  <ellipse cx="38" cy="112" rx="6" ry="11" fill="#b48c84"/>
  <ellipse cx="8" cy="118" rx="10" ry="12" fill="#e2d4cc"/>
  <path d="M104 70L104 140L54 140L70 116L88 86Z" fill="#2c4e98"/>
  <path d="M104 90L104 140L80 140L88 110Z" fill="#34506a"/>
  <ellipse cx="88" cy="86" rx="5" ry="8" fill="#c8d0dc"/>
 </g>
 <g fill="none" stroke="#f4eee4" stroke-width="1.4" opacity="0.9" filter="url(#bl1)">
  <path d="M4 22C16 18 30 20 40 26"/>
  <path d="M8 54C22 50 34 54 42 60"/>
  <path d="M28 34C36 30 46 32 52 36"/>
 </g>
 <g fill="#fff" filter="url(#bl1)">
  <circle cx="62" cy="14" r="0.9"/><circle cx="58" cy="44" r="1"/><circle cx="88" cy="48" r="0.8"/>
  <circle cx="40" cy="84" r="1"/><circle cx="87" cy="80" r="0.9"/><circle cx="90" cy="95" r="0.8"/>
 </g>
</g>
<!-- Photo 4: hypoxia -->
<g transform="translate(411.2,595.7)" clip-path="url(#c4)">
 <g filter="url(#bl3)">
  <rect x="-10" y="-10" width="116" height="150" fill="#2e4250"/>
  <ellipse cx="38" cy="20" rx="44" ry="30" fill="#282e30"/>
  <ellipse cx="86" cy="4" rx="16" ry="10" fill="#3c2a2e"/>
  <ellipse cx="93" cy="26" rx="5" ry="14" fill="#4a4c52"/>
  <path d="M-5 48C15 56 38 62 56 55C68 48 76 34 80 14L90 16C89 40 80 60 62 68C40 74 15 72 -5 64Z" fill="#72aecc"/>
  <ellipse cx="68" cy="76" rx="20" ry="17" fill="#360c18"/>
  <ellipse cx="10" cy="72" rx="13" ry="16" fill="#4c8aac"/>
  <ellipse cx="32" cy="78" rx="7" ry="12" fill="#6e7256"/>
  <rect x="88" y="44" width="14" height="60" fill="#8894a0"/>
  <path d="M-10 94C20 88 50 94 105 98V140H-10Z" fill="#3a74aa"/>
  <ellipse cx="60" cy="102" rx="20" ry="7" fill="#68a4cc"/>
  <ellipse cx="30" cy="110" rx="14" ry="8" fill="#5a96c4"/>
  <ellipse cx="10" cy="124" rx="14" ry="9" fill="#28466c"/>
  <ellipse cx="78" cy="120" rx="14" ry="9" fill="#4c84b8"/>
 </g>
 <g fill="#fff" filter="url(#bl1)">
  <circle cx="24" cy="33" r="1.2"/><circle cx="28" cy="12" r="0.9"/><circle cx="29" cy="23" r="0.8"/>
  <circle cx="12" cy="44" r="1.1"/><circle cx="8" cy="41" r="0.8"/><circle cx="5" cy="52" r="0.8"/>
  <circle cx="46" cy="61" r="0.9"/><circle cx="60" cy="61" r="0.9"/><circle cx="66" cy="57" r="0.8"/>
  <circle cx="10" cy="62" r="0.8"/><circle cx="47" cy="98" r="0.9"/><circle cx="64" cy="97" r="0.9"/>
  <circle cx="90" cy="100" r="0.9"/><circle cx="45" cy="115" r="0.9"/><circle cx="70" cy="110" r="0.8"/>
  <circle cx="92" cy="63" r="0.9"/><circle cx="30" cy="105" r="0.8"/><circle cx="40" cy="120" r="0.8"/>
  <circle cx="56" cy="112" r="0.8"/><circle cx="18" cy="80" r="0.8"/><circle cx="14" cy="46" r="0.8"/>
 </g>
</g>

<text transform="translate(57.6,740.7) scale(1.12,1)" class="cap">Normoxia</text>
<text transform="translate(167.0,740.7) scale(1.1,1)" class="cap">Hypoxia</text>
<text transform="translate(316.0,740.7) scale(1.12,1)" class="cap">Normoxia</text>
<text transform="translate(425.0,740.7) scale(1.1,1)" class="cap">Hypoxia</text>
</svg></body></html>
